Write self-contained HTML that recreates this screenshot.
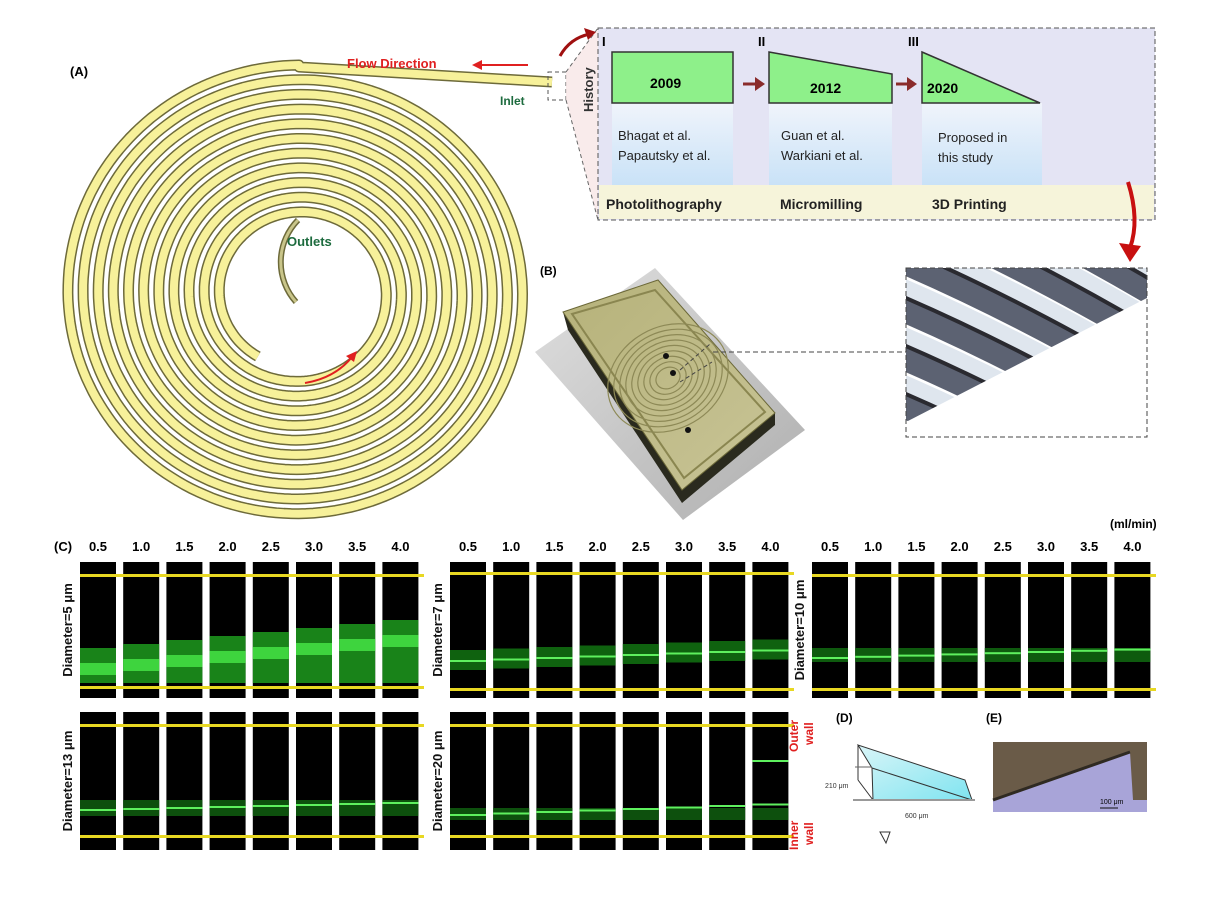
<!DOCTYPE html>
<html><head><meta charset="utf-8"><style>
body{margin:0;background:#fff;width:1214px;height:892px;overflow:hidden;font-family:"Liberation Sans",sans-serif}
svg text{font-family:"Liberation Sans",sans-serif;font-weight:bold}
</style></head><body>
<svg id="s" width="1214" height="892" viewBox="0 0 1214 892" xmlns="http://www.w3.org/2000/svg">
<defs>
<linearGradient id="col" x1="0" y1="0" x2="0" y2="1"><stop offset="0" stop-color="#f0f4fb"/><stop offset="1" stop-color="#c9e2f7"/></linearGradient>
<linearGradient id="plate" x1="0" y1="0" x2="1" y2="1"><stop offset="0" stop-color="#d8d8d8"/><stop offset="1" stop-color="#9a9a9a"/></linearGradient>
<linearGradient id="topf" x1="0" y1="0" x2="1" y2="1"><stop offset="0" stop-color="#b6b27a"/><stop offset="1" stop-color="#c8c496"/></linearGradient>
<linearGradient id="d" x1="0" y1="0" x2="1" y2="1"><stop offset="0" stop-color="#d9f5f8"/><stop offset="1" stop-color="#7fe4f0"/></linearGradient>
<clipPath id="zc"><rect x="906" y="268" width="241" height="169"/></clipPath>
</defs>
<text x="70" y="76" font-size="13">(A)</text>
<g id="spiral"></g>
<path d="M298,220 A60,60 0 0 0 296,302" fill="none" stroke="#6d6a3a" stroke-width="6"/>
<path d="M298,220 A60,60 0 0 0 296,302" fill="none" stroke="#c9c58a" stroke-width="3"/>
<text x="287" y="246" font-size="13" fill="#1d6b3e">Outlets</text>
<path d="M305,383 Q335,378 352,357" fill="none" stroke="#e02020" stroke-width="2"/>
<polygon points="357,351 346,356 354,362" fill="#e02020"/>
<text x="347" y="68" font-size="13" fill="#e02020">Flow Direction</text>
<line x1="478" y1="65" x2="528" y2="65" stroke="#e02020" stroke-width="2"/>
<polygon points="472,65 482,60 482,70" fill="#e02020"/>
<text x="500" y="105" font-size="12" fill="#1d6b3e">Inlet</text>
<rect x="548" y="72" width="18" height="28" fill="none" stroke="#555" stroke-dasharray="4,3"/>
<polygon points="566,72 598,28 598,220 566,100" fill="#f7e6e6" opacity="0.8"/>
<line x1="566" y1="72" x2="598" y2="28" stroke="#666" stroke-dasharray="4,3"/>
<line x1="566" y1="100" x2="598" y2="220" stroke="#666" stroke-dasharray="4,3"/>
<path d="M560,56 Q570,38 590,34" fill="none" stroke="#a01010" stroke-width="3"/>
<polygon points="596,32 584,28 588,40" fill="#a01010"/>
<rect x="598" y="28" width="557" height="192" fill="#e4e4f4" stroke="#555" stroke-dasharray="5,3"/>
<rect x="612" y="103" width="121" height="82" fill="url(#col)"/>
<rect x="769" y="103" width="123" height="82" fill="url(#col)"/>
<rect x="922" y="103" width="120" height="82" fill="url(#col)"/>
<rect x="599" y="185" width="555" height="34" fill="#f6f4da"/>
<text transform="translate(593,112) rotate(-90)" font-size="13" fill="#333">History</text>
<text x="602" y="46" font-size="13">I</text><text x="758" y="46" font-size="13">II</text><text x="908" y="46" font-size="13">III</text>
<rect x="612" y="52" width="121" height="51" fill="#8ef08a" stroke="#333" stroke-width="1.5"/>
<polygon points="769,52 892,74 892,103 769,103" fill="#8ef08a" stroke="#333" stroke-width="1.5"/>
<polygon points="922,52 1040,103 922,103" fill="#8ef08a" stroke="#333" stroke-width="1.5"/>
<text x="650" y="88" font-size="14">2009</text><text x="810" y="93" font-size="14">2012</text><text x="927" y="93" font-size="14">2020</text>
<g stroke="#8a2b2b" stroke-width="3" fill="#8a2b2b"><line x1="743" y1="84" x2="758" y2="84"/><polygon points="765,84 755,77 755,91" stroke="none"/>
<line x1="896" y1="84" x2="910" y2="84"/><polygon points="917,84 907,77 907,91" stroke="none"/></g>
<g font-size="13" fill="#222">
<text x="618" y="140" style="font-weight:normal">Bhagat et al.</text><text x="618" y="160" style="font-weight:normal">Papautsky et al.</text>
<text x="781" y="140" style="font-weight:normal">Guan et al.</text><text x="781" y="160" style="font-weight:normal">Warkiani et al.</text>
<text x="938" y="142" style="font-weight:normal">Proposed in</text><text x="938" y="162" style="font-weight:normal">this study</text></g>
<text x="606" y="209" font-size="14" fill="#222">Photolithography</text>
<text x="780" y="209" font-size="14" fill="#222">Micromilling</text>
<text x="932" y="209" font-size="14" fill="#222">3D Printing</text>
<path d="M1128,182 Q1140,220 1130,248" fill="none" stroke="#c81010" stroke-width="4"/>
<polygon points="1130,262 1119,243 1141,246" fill="#c81010"/>
<text x="540" y="275" font-size="12">(B)</text>
<polygon points="535,352 655,268 805,430 683,520" fill="url(#plate)" opacity="0.8"/>
<polygon points="563,312 568,330 682,503 775,425 775,413 682,490" fill="#2a2a1e"/>
<polygon points="563,312 658,280 775,413 682,490" fill="url(#topf)" stroke="#6b6838"/>
<polygon points="572,314 655,290 765,412 684,478" fill="none" stroke="#8a8650" stroke-width="2"/>
<g fill="none" stroke="#8d8956" stroke-width="1.2" id="chipsp"></g>
<circle cx="666" cy="356" r="3" fill="#111"/><circle cx="673" cy="373" r="3" fill="#111"/><circle cx="688" cy="430" r="3" fill="#111"/>
<line x1="713" y1="352" x2="906" y2="352" stroke="#444" stroke-dasharray="5,3"/>
<line x1="680" y1="370" x2="710" y2="344" stroke="#444" stroke-dasharray="4,3"/>
<line x1="680" y1="382" x2="712" y2="362" stroke="#444" stroke-dasharray="4,3"/>
<g clip-path="url(#zc)" id="zoom"></g>
<rect x="906" y="268" width="241" height="169" fill="none" stroke="#444" stroke-dasharray="5,3"/>
<text x="1110" y="528" font-size="12">(ml/min)</text>
<text x="54" y="551" font-size="13">(C)</text>
<g id="C"></g>
<text x="836" y="722" font-size="12">(D)</text>
<polygon points="858,745 872,768 873,800 972,800 965,780" fill="url(#d)" stroke="#333"/>
<line x1="858" y1="745" x2="858" y2="780" stroke="#333"/><line x1="858" y1="780" x2="873" y2="800" stroke="#333"/>
<line x1="872" y1="768" x2="972" y2="800" stroke="#333"/>
<line x1="855" y1="767" x2="872" y2="767" stroke="#666"/><line x1="853" y1="800" x2="975" y2="800" stroke="#999" stroke-width="2"/>
<text x="825" y="788" font-size="7" fill="#333" style="font-weight:normal">210 μm</text>
<text x="905" y="818" font-size="7" fill="#333" style="font-weight:normal">600 μm</text>
<polygon points="880,832 890,832 886,843" fill="none" stroke="#333"/>
<text x="798" y="752" font-size="12" fill="#e02020" transform="rotate(-90 798 752)">Outer</text>
<text x="813" y="745" font-size="12" fill="#e02020" transform="rotate(-90 813 745)">wall</text>
<text x="798" y="850" font-size="12" fill="#e02020" transform="rotate(-90 798 850)">Inner</text>
<text x="813" y="845" font-size="12" fill="#e02020" transform="rotate(-90 813 845)">wall</text>
<text x="986" y="722" font-size="12">(E)</text>
<rect x="993" y="742" width="154" height="70" fill="#6a5b48"/>
<polygon points="993,800 1130,752 1133,800 1147,800 1147,812 993,812" fill="#a8a4d8"/>
<line x1="993" y1="800" x2="1130" y2="752" stroke="#2f2a22" stroke-width="3"/>
<line x1="1100" y1="808" x2="1118" y2="808" stroke="#111"/>
<text x="1100" y="804" font-size="7" style="font-weight:normal">100 μm</text>
</svg>
<script>
var NS="http://www.w3.org/2000/svg";
function el(p,t,a){var e=document.createElementNS(NS,t);for(var k in a)e.setAttribute(k,a[k]);p.appendChild(e);return e;}
var cx=299,cy=293,r0=228,r1=75,span=20*Math.PI+2.58,d="M552,82 L"+cx+","+(cy-r0+2);
for(var i=0;i<=2000;i++){var t=span*i/2000,r=r0-(r0-r1)*t/span,a=-Math.PI/2-t;d+=" L"+(cx+r*Math.cos(a)*1.03).toFixed(1)+","+(cy+r*Math.sin(a)).toFixed(1);}
var g=document.getElementById("spiral");
el(g,"path",{d:d,fill:"none",stroke:"#6d6a3a","stroke-width":11,"stroke-linejoin":"round"});
el(g,"path",{d:d,fill:"none",stroke:"#f7f19a","stroke-width":8,"stroke-linejoin":"round"});
var cs=document.getElementById("chipsp");
for(var k=0;k<9;k++){var rr=12+k*6;el(cs,"ellipse",{cx:668,cy:378,rx:rr*1.05,ry:rr*0.85,transform:"rotate(-30 668 378)"});}
var z=document.getElementById("zoom");
el(z,"rect",{x:906,y:268,width:241,height:169,fill:"#fff"});
for(var k=-8;k<6;k++){var y=275+k*48;
 el(z,"path",{d:"M880,"+(y+24)+" Q1020,"+(y+82)+" 1180,"+(y+178),fill:"none",stroke:"#5c6272","stroke-width":26});
 el(z,"path",{d:"M880,"+(y+2)+" Q1020,"+(y+60)+" 1180,"+(y+156),fill:"none",stroke:"#dfe6ee","stroke-width":16});
 el(z,"path",{d:"M880,"+(y+12)+" Q1020,"+(y+70)+" 1180,"+(y+166),fill:"none",stroke:"#2a2a30","stroke-width":4});}
el(z,"polygon",{points:"906,422 1147,298 1147,437 906,437",fill:"#fff"});
var C=document.getElementById("C"),labs=["0.5","1.0","1.5","2.0","2.5","3.0","3.5","4.0"];
var groups=[[80,562,698,575,687,"Diameter=5 μm",1,true],[450,562,698,573,689,"Diameter=7 μm",2,true],[812,562,698,575,689,"Diameter=10 μm",3,true],
[80,712,850,725,836,"Diameter=13 μm",4,false],[450,712,850,725,836,"Diameter=20 μm",5,false]];
groups.forEach(function(G){var x0=G[0],y0=G[1],y1=G[2];
 el(C,"text",{x:x0-8,y:y0+(y1-y0)/2,"font-size":13,transform:"rotate(-90 "+(x0-8)+" "+(y0+(y1-y0)/2)+")","text-anchor":"middle",fill:"#111"}).textContent=G[5];
 for(var i=0;i<8;i++){var x=x0+i*43.2;
  if(G[7]){var t=el(C,"text",{x:x+18,y:551,"font-size":13,"text-anchor":"middle"});t.textContent=labs[i];}
  el(C,"rect",{x:x,y:y0,width:36,height:y1-y0,fill:"#000"});
  var ty=G[6];
  if(ty==1){var top=648-i*4;el(C,"rect",{x:x,y:top,width:36,height:683-top,fill:"#1d9a1d",opacity:0.85});el(C,"rect",{x:x,y:top+15,width:36,height:12,fill:"#3ed43e"});}
  if(ty==2){el(C,"rect",{x:x,y:650-i*1.5,width:36,height:20,fill:"#137a13",opacity:0.8});el(C,"rect",{x:x,y:660-i*1.5,width:36,height:2,fill:"#5ef05e"});}
  if(ty==3){el(C,"rect",{x:x,y:648,width:36,height:14,fill:"#0e5a0e"});el(C,"rect",{x:x,y:657-i*1.2,width:36,height:2,fill:"#5ef05e"});}
  if(ty==4){el(C,"rect",{x:x,y:800,width:36,height:16,fill:"#0d500d"});el(C,"rect",{x:x,y:809-i*1,width:36,height:2,fill:"#5ef05e"});}
  if(ty==5){el(C,"rect",{x:x,y:808,width:36,height:12,fill:"#0d500d"});el(C,"rect",{x:x,y:814-i*1.5,width:36,height:2,fill:"#5ef05e"});if(i==7)el(C,"rect",{x:x,y:760,width:36,height:2,fill:"#5ef05e"});}
 }
 el(C,"rect",{x:x0,y:G[3]-1,width:344,height:3,fill:"#e8d822"});
 el(C,"rect",{x:x0,y:G[4]-1,width:344,height:3,fill:"#e8d822"});
});
</script>
</body></html>
